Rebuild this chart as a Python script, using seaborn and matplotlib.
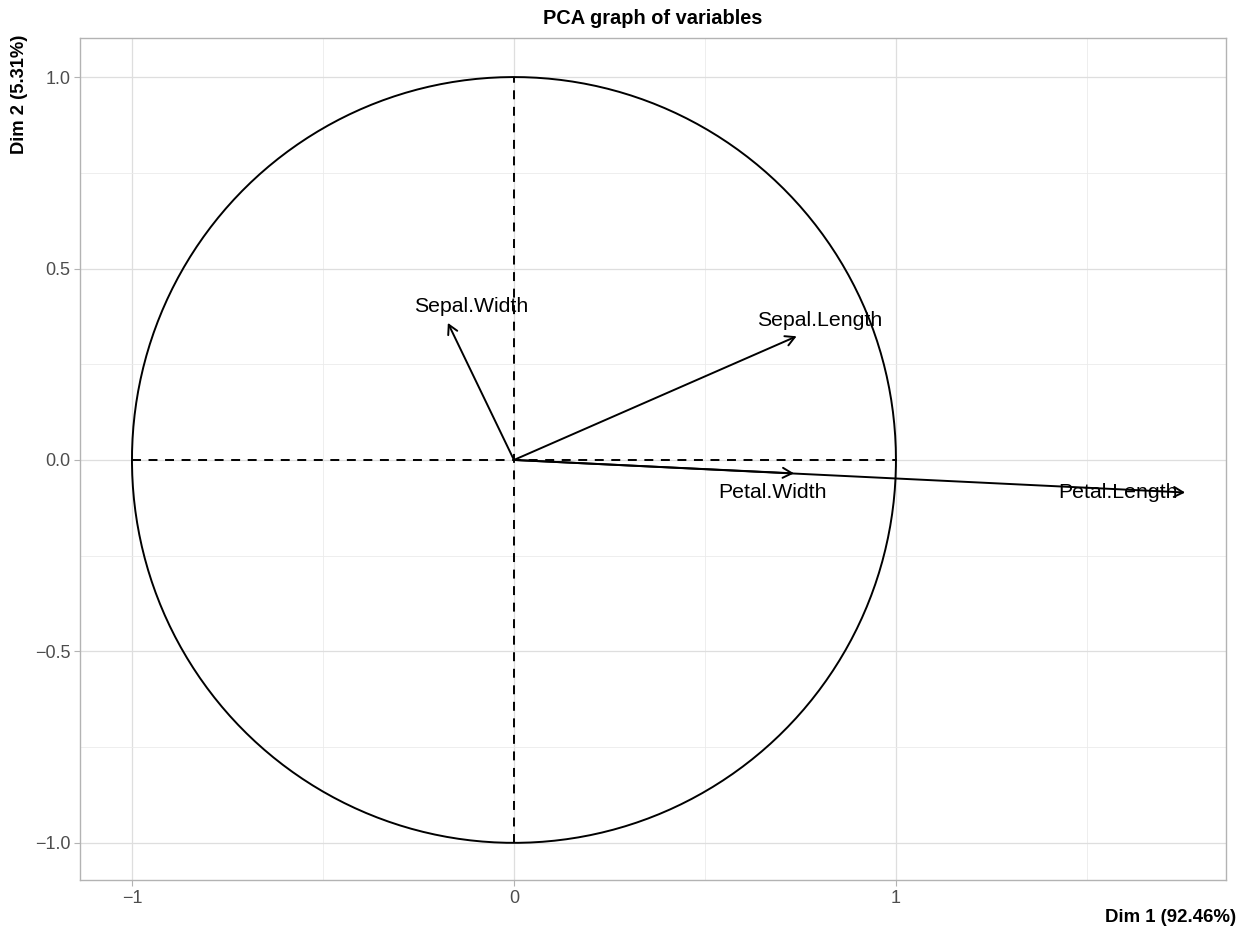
import numpy as np
import pandas as pd
import matplotlib
matplotlib.use("Agg")
import matplotlib.pyplot as plt
import seaborn as sns

# Variable coordinates on the first two principal dimensions
variables = ["Sepal.Length", "Sepal.Width", "Petal.Length", "Petal.Width"]
dim1 = [0.740, -0.173, 1.757, 0.733]
dim2 = [0.323, 0.358, -0.085, -0.035]
# label anchor points (text centres)
label_x = [0.801, -0.113, 1.581, 0.678]
label_y = [0.363, 0.400, -0.084, -0.084]

x_ticks = [-1, 0, 1]
x_tick_labels = ["\u22121", "0", "1"]
y_ticks = [-1.0, -0.5, 0.0, 0.5, 1.0]
y_tick_labels = ["\u22121.0", "\u22120.5", "0.0", "0.5", "1.0"]
x_minor = [-0.5, 0.5, 1.5]
y_minor = [-0.75, -0.25, 0.25, 0.75]

sns.set_theme(style="whitegrid")
plt.rcParams["font.family"] = ["Liberation Sans", "DejaVu Sans"]

fig = plt.figure(figsize=(12.47, 9.33), dpi=100)
ax = fig.add_axes([80 / 1247, 1 - 880 / 933, (1226 - 80) / 1247, (880 - 38) / 933])
ax.set_facecolor("white")

# correlation circle
theta = np.linspace(0, 2 * np.pi, 400)
circle = pd.DataFrame({"x": np.cos(theta), "y": np.sin(theta)})
sns.lineplot(data=circle, x="x", y="y", sort=False, estimator=None, color="black",
             lw=1.4, ax=ax, zorder=3)

# dashed reference axes
dash = (0, (4.6, 3.9))
sns.lineplot(x=[-1, 1], y=[0, 0], estimator=None, color="black", lw=1.4, ax=ax, zorder=3,
             linestyle=dash)
sns.lineplot(x=[0, 0], y=[-1, 1], estimator=None, color="black", lw=1.4, ax=ax, zorder=3,
             linestyle=dash, sort=False, orient="y")

# variable arrows and names
for name, x, y, lx, ly in zip(variables, dim1, dim2, label_x, label_y):
    ax.annotate("", xy=(x, y), xytext=(0, 0),
                arrowprops=dict(arrowstyle="->,head_length=0.55,head_width=0.3",
                                color="black", lw=1.4, shrinkA=0, shrinkB=0),
                zorder=4)
    ax.text(lx, ly, name, ha="center", va="center", fontsize=15.3, color="black", zorder=5)

ax.set_xlim(-1.136, 1.864)
ax.set_ylim(-1.097, 1.102)

ax.set_xticks(x_ticks)
ax.set_xticklabels(x_tick_labels)
ax.set_yticks(y_ticks)
ax.set_yticklabels(y_tick_labels)
ax.set_xticks(x_minor, minor=True)
ax.set_yticks(y_minor, minor=True)

ax.grid(True, which="major", color="#dedede", lw=0.9)
ax.grid(True, which="minor", color="#ebebeb", lw=0.6)
ax.set_axisbelow(True)

ax.tick_params(axis="both", which="major", direction="out", length=4, width=0.8,
               color="#b3b3b3", labelcolor="#4d4d4d", labelsize=13, pad=3,
               bottom=True, left=True)
ax.tick_params(axis="both", which="minor", length=0)
for s in ax.spines.values():
    s.set_visible(True)
    s.set_color("#b3b3b3")
    s.set_linewidth(1.0)

ax.set_xlabel("")
ax.set_ylabel("")

fig.text(653 / 1247, 1 - 18 / 933, "PCA graph of variables", ha="center", va="center",
         fontsize=14.4, fontweight="bold", color="black")
fig.text(1236 / 1247, 1 - 918 / 933, "Dim 1 (92.46%)", ha="right", va="center",
         fontsize=13.4, fontweight="bold", color="black")
fig.text(20 / 1247, 1 - 35 / 933, "Dim 2 (5.31%)", ha="center", va="top", rotation=90,
         fontsize=13.2, fontweight="bold", color="black")

fig.savefig("out.png", dpi=100, facecolor="white")
